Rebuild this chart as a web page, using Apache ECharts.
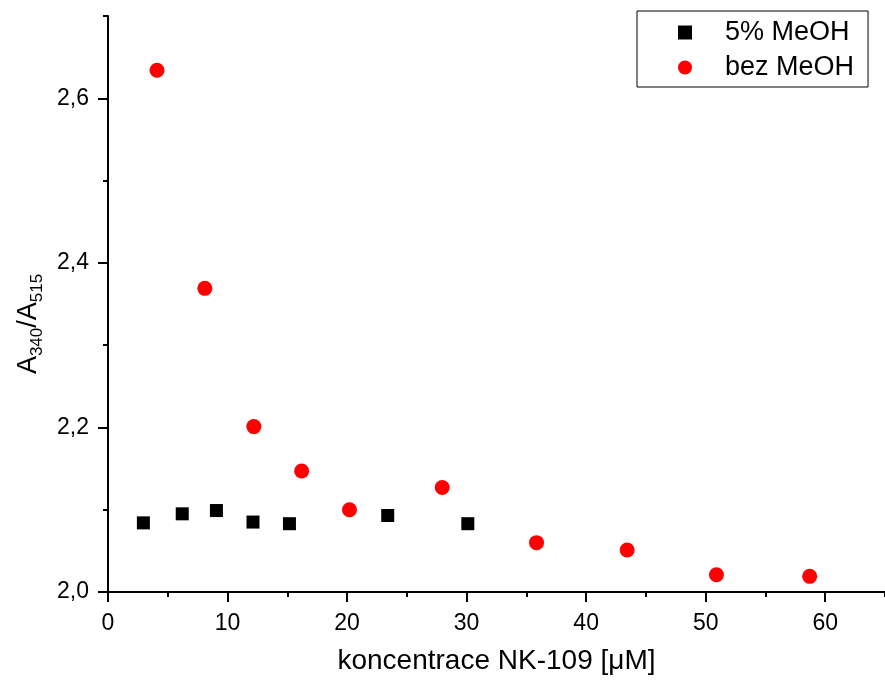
<!DOCTYPE html>
<html>
<head>
<meta charset="utf-8">
<script src="https://cdn.jsdelivr.net/npm/echarts@6/dist/echarts.min.js"></script>
<style>
  html, body { margin: 0; padding: 0; background: #fff; }
  #chart { width: 885px; height: 680px; }
</style>
</head>
<body>
<div id="chart"></div>
<script>
// series data
const methanolX = [2.96, 6.21, 9.07, 12.13, 15.18, 23.4, 30.1];
const methanolY = [2.084, 2.095, 2.099, 2.085, 2.083, 2.093, 2.083];
const noMethanolX = [4.1, 8.1, 12.2, 16.2, 20.2, 27.96, 35.85, 43.43, 50.9, 58.7];
const noMethanolY = [2.634, 2.369, 2.201, 2.147, 2.100, 2.127, 2.060, 2.051, 2.021, 2.019];

// axis ticks
const xMajorTicks = [0, 10, 20, 30, 40, 50, 60];
const yMajorTicks = [2.0, 2.2, 2.4, 2.6];
const seriesNames = ["5% MeOH", "bez MeOH"];

const font = "Liberation Sans, Arial, sans-serif";

const pairs = (xs, ys) => xs.map((x, i) => [x, ys[i]]);

const chart = echarts.init(document.getElementById("chart"));

chart.setOption({
  backgroundColor: "#fff",
  animation: false,
  textStyle: { fontFamily: font, color: "#000" },
  grid: { left: 108, top: 16, width: 780, height: 577 },
  legend: {
    orient: "vertical",
    left: 637,
    top: 11,
    padding: [8, 14, 6, 41],
    itemGap: 8,
    itemWidth: 14,
    itemHeight: 14,
    borderColor: "#000",
    borderWidth: 1,
    data: seriesNames,
    textStyle: { fontSize: 27, fontFamily: font, color: "#000", padding: [0, 0, 0, 28] },
  },
  xAxis: [
    {
      type: "value",
      min: 0,
      max: 65,
      interval: 5,
      name: "koncentrace NK-109 [\u03bcM]",
      nameLocation: "middle",
      nameGap: 55,
      nameTextStyle: { fontSize: 28, fontFamily: font, color: "#000" },
      axisLine: { show: true, onZero: false, lineStyle: { color: "#000", width: 2 } },
      axisTick: { show: true, length: 10, lineStyle: { width: 2, color: "#000" }, customValues: xMajorTicks },
      axisLabel: { fontSize: 23, color: "#000", margin: 20, customValues: xMajorTicks },
      splitLine: { show: false },
    },
    {
      type: "value",
      min: 0,
      max: 65,
      interval: 5,
      position: "bottom",
      axisLine: { show: false },
      axisTick: { show: true, length: 5, lineStyle: { width: 2, color: "#000" } },
      axisLabel: { show: false },
      splitLine: { show: false },
    },
  ],
  yAxis: [
    {
      type: "value",
      min: 2.0,
      max: 2.7,
      interval: 0.1,
      name: "{a|A}{s|340}{a|/A}{s|515}",
      nameLocation: "middle",
      nameGap: 60,
      nameTextStyle: {
        color: "#000",
        padding: [0, 40, 0, 0],
        rich: {
          a: { fontSize: 27, fontFamily: font, color: "#000", lineHeight: 36, verticalAlign: "middle" },
          s: { fontSize: 17, fontFamily: font, color: "#000", lineHeight: 6, verticalAlign: "bottom" },
        },
      },
      axisLine: { show: true, onZero: false, lineStyle: { color: "#000", width: 2 } },
      axisTick: { show: true, length: 10, lineStyle: { width: 2, color: "#000" }, customValues: yMajorTicks },
      axisLabel: {
        fontSize: 23,
        color: "#000",
        margin: 19,
        customValues: yMajorTicks,
        formatter: (v) => v.toFixed(1).replace(".", ","),
      },
      splitLine: { show: false },
    },
    {
      type: "value",
      min: 2.0,
      max: 2.7,
      interval: 0.1,
      position: "left",
      axisLine: { show: false },
      axisTick: { show: true, length: 5, lineStyle: { width: 2, color: "#000" } },
      axisLabel: { show: false },
      splitLine: { show: false },
    },
  ],
  series: [
    {
      name: seriesNames[0],
      type: "scatter",
      symbol: "rect",
      symbolSize: 13,
      itemStyle: { color: "#000", opacity: 1 },
      data: pairs(methanolX, methanolY),
    },
    {
      name: seriesNames[1],
      type: "scatter",
      symbol: "circle",
      symbolSize: 15,
      itemStyle: { color: "#ff0000", opacity: 1 },
      data: pairs(noMethanolX, noMethanolY),
    },
  ],
});
</script>
</body>
</html>
